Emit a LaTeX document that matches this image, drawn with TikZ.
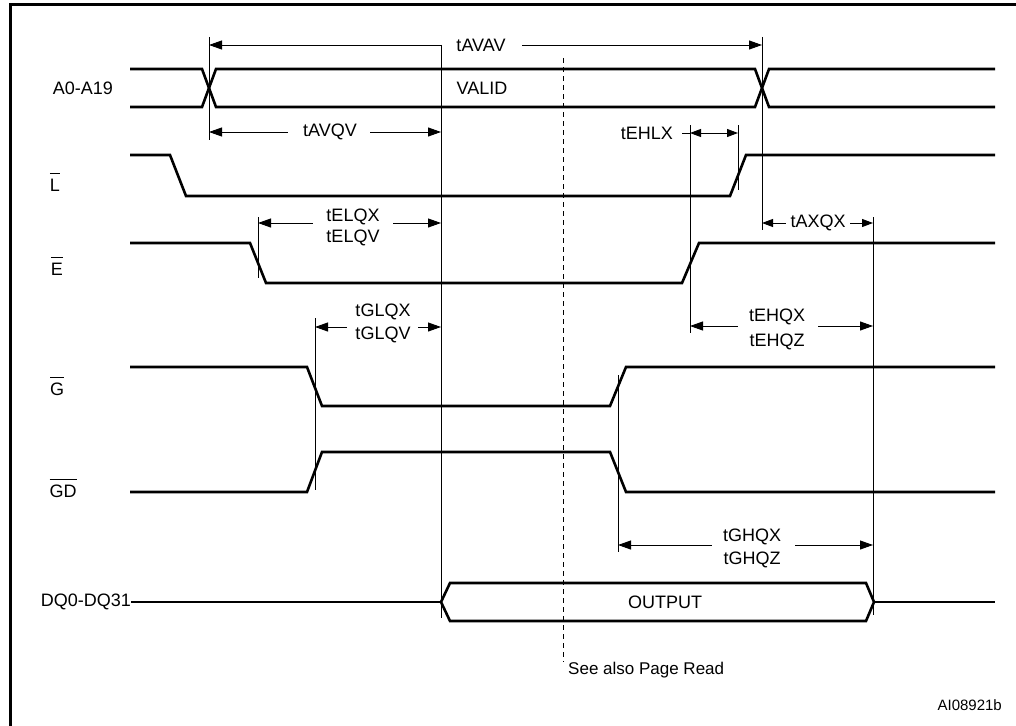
\documentclass[tikz,border=0pt]{standalone}
\usepackage{fontspec}
\setmainfont{Liberation Sans}
\usetikzlibrary{arrows.meta}
\newcommand\ovbar[1]{\vbox{\hrule height 1pt\kern 4.5pt\hbox{#1}}}
\begin{document}
\begin{tikzpicture}[x=1pt,y=-1pt,
  sig/.style={line width=2.6pt, line join=miter},
  thinl/.style={line width=0.9pt},
  mytip/.tip={Triangle[length=13pt,width=9pt]},
  smtip/.tip={Triangle[length=11pt,width=8pt]},
  lbl/.style={font=\fontsize{18}{21}\selectfont, inner sep=0pt},
  sm/.style={font=\fontsize{15}{18}\selectfont, inner sep=0pt},
  dashl/.style={line width=0.9pt, dash pattern=on 5pt off 4pt}]
\useasboundingbox (0,0) rectangle (1016,725);
% frame
\draw[line width=3pt] (10,735) -- (10,5) -- (1030,5);
% signal names
\node[lbl, anchor=east] (nA) at (113,88) {A0-A19};
\node[lbl, anchor=base] (nL) at (55,191) {\ovbar{L}};
\node[lbl, anchor=base] (nE) at (57,275) {\ovbar{E}};
\node[lbl, anchor=base] (nG) at (57,395) {\ovbar{G}};
\node[lbl, anchor=base] (nGD) at (63,497) {\ovbar{GD}};
\node[lbl, anchor=east] (nDQ) at (131,602) {DQ0-DQ31};
% A0-A19 bus
\draw[sig] (130,69) -- (202,69) -- (216,107) -- (755,107) -- (769,69) -- (995,69);
\draw[sig] (130,107) -- (202,107) -- (216,69) -- (755,69) -- (769,107) -- (995,107);
\node[lbl] (valid) at (482,88) {VALID};
% L
\draw[sig] (130,155) -- (170,155) -- (186,196) -- (730,196) -- (746,155) -- (995,155);
% E
\draw[sig] (130,243) -- (250,243) -- (266,283) -- (682,283) -- (699,243) -- (995,243);
% G
\draw[sig] (130,367) -- (307,367) -- (322,406) -- (610,406) -- (626,367) -- (995,367);
% GD
\draw[sig] (130,492) -- (307,492) -- (322,452) -- (610,452) -- (626,492) -- (995,492);
% DQ
\draw[sig] (131,602) -- (441,602);
\draw[sig] (441,602) -- (450,583) -- (866,583) -- (874,602) -- (866,621) -- (450,621) -- cycle;
\draw[sig] (874,602) -- (995,602);
\node[lbl] (out) at (665,602) {OUTPUT};
% reference lines
\draw[thinl] (209,37) -- (209,140);
\draw[thinl] (441,45) -- (441,618);
\draw[thinl] (762,37) -- (762,230);
\draw[thinl] (738,125) -- (738,190);
\draw[thinl] (690,125) -- (690,333);
\draw[thinl] (258,217) -- (258,278);
\draw[thinl] (873,217) -- (873,615);
\draw[thinl] (315,318) -- (315,490);
\draw[thinl] (618,375) -- (618,552);
% dashed
\draw[dashl] (563,58) -- (563,662);
\node[lbl, anchor=west, font=\fontsize{17}{20}\selectfont] (see) at (568,670) {See also Page Read};
\node[sm, anchor=east] (ai) at (1002,705) {AI08921b};
% tAVAV
\node[lbl] (tavav) at (481,45) {tAVAV};
\draw[thinl, mytip-] (209,45) -- (441,45);
\draw[thinl, -mytip] (522,45) -- (762,45);
% tAVQV
\node[lbl] (tavqv) at (330,132) {tAVQV};
\draw[thinl, mytip-] (209,132) -- (288,132);
\draw[thinl, -mytip] (370,132) -- (441,132);
% tEHLX
\node[lbl, anchor=east] (tehlx) at (673,133) {tEHLX};
\draw[thinl] (682,133) -- (690,133);
\draw[thinl, smtip-smtip] (690,133) -- (738,133);
% tELQX
\node[lbl] (telqx) at (353,217) {tELQX};
\node[lbl] (telqv) at (353,238) {tELQV};
\draw[thinl, mytip-] (258,223) -- (313,223);
\draw[thinl, -mytip] (393,223) -- (441,223);
% tAXQX
\node[lbl] (taxqx) at (818,223) {tAXQX};
\draw[thinl, smtip-] (762,223) -- (786,223);
\draw[thinl, -smtip] (850,223) -- (873,223);
% tGLQX
\node[lbl] (tglqx) at (383,312) {tGLQX};
\node[lbl] (tglqv) at (383,335) {tGLQV};
\draw[thinl, mytip-] (315,327) -- (347,327);
\draw[thinl, -mytip] (418,327) -- (441,327);
% tEHQX
\node[lbl] (tehqx) at (777,317) {tEHQX};
\node[lbl] (tehqz) at (777,342) {tEHQZ};
\draw[thinl, mytip-] (690,326) -- (738,326);
\draw[thinl, -mytip] (818,326) -- (873,326);
% tGHQX
\node[lbl] (tghqx) at (752,537) {tGHQX};
\node[lbl] (tghqz) at (752,560) {tGHQZ};
\draw[thinl, mytip-] (618,545) -- (712,545);
\draw[thinl, -mytip] (795,545) -- (873,545);
\end{tikzpicture}
\end{document}
